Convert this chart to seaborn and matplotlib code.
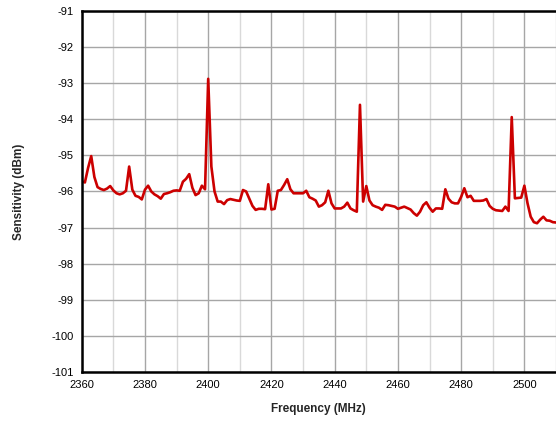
import matplotlib
matplotlib.use("Agg")
import matplotlib.pyplot as plt
import seaborn as sns
import pandas as pd
import numpy as np
from matplotlib.ticker import MultipleLocator

freq_start = 2360
sensitivity = [
    -95.72, -95.75, -95.35, -95.02, -95.60, -95.88, -95.93, -95.96, -95.92, -95.85,
    -95.97, -96.05, -96.08, -96.05, -95.98, -95.31, -95.95, -96.12, -96.15, -96.22,
    -95.95, -95.84, -96.00, -96.08, -96.13, -96.20, -96.07, -96.05, -96.02, -95.98,
    -95.97, -95.98, -95.73, -95.65, -95.52, -95.90, -96.10, -96.05, -95.84, -95.94,
    -92.88, -95.31, -96.00, -96.28, -96.28, -96.35, -96.24, -96.21, -96.23, -96.25,
    -96.26, -95.96, -96.00, -96.20, -96.40, -96.51, -96.48, -96.48, -96.49, -95.80,
    -96.50, -96.48, -95.98, -95.96, -95.82, -95.66, -95.94, -96.05, -96.05, -96.05,
    -96.05, -95.98, -96.16, -96.20, -96.25, -96.42, -96.38, -96.30, -95.98, -96.33,
    -96.47, -96.47, -96.47, -96.42, -96.31, -96.47, -96.52, -96.56, -93.60, -96.28,
    -95.85, -96.25, -96.38, -96.42, -96.45, -96.51, -96.37, -96.38, -96.40, -96.42,
    -96.48, -96.45, -96.42, -96.46, -96.50, -96.60, -96.67, -96.56, -96.38, -96.30,
    -96.45, -96.56, -96.47, -96.47, -96.48, -95.94, -96.20, -96.30, -96.33, -96.33,
    -96.15, -95.91, -96.16, -96.12, -96.26, -96.26, -96.26, -96.25, -96.21, -96.40,
    -96.48, -96.52, -96.53, -96.54, -96.42, -96.54, -93.94, -96.19, -96.18, -96.17,
    -95.84, -96.33, -96.70, -96.85, -96.88, -96.78, -96.70, -96.80, -96.81, -96.85,
    -96.86,
]
frequency = [freq_start + i for i in range(len(sensitivity))]

x_ticks = [2360, 2380, 2400, 2420, 2440, 2460, 2480, 2500]
y_ticks = list(range(-101, -90))

df = pd.DataFrame({"Frequency (MHz)": frequency, "Sensitivity (dBm)": sensitivity})

sns.set_style("white")
plt.rcParams["font.family"] = ["Liberation Sans", "DejaVu Sans"]

fig = plt.figure(figsize=(5.56, 4.21), dpi=100)
ax = fig.add_axes([0.147, 0.1164, 0.853, 0.8576])

sns.lineplot(data=df, x="Frequency (MHz)", y="Sensitivity (dBm)", ax=ax,
             color="#CC0000", linewidth=1.9)

ax.set_xlim(2360, 2510)
ax.set_ylim(-101, -91)
ax.set_xticks(x_ticks)
ax.xaxis.set_minor_locator(MultipleLocator(10))
ax.set_yticks(y_ticks)
ax.set_yticklabels([str(v) for v in y_ticks])
ax.grid(which="minor", axis="x", color="#d9d9d9", linewidth=1.0)
ax.grid(which="major", axis="x", color="#a6a6a6", linewidth=1.0)
ax.grid(which="major", axis="y", color="#a6a6a6", linewidth=1.0)
ax.set_axisbelow(True)

ax.tick_params(axis="both", which="both", length=0, labelsize=8, colors="black", pad=6)
for side in ["left", "bottom", "top"]:
    ax.spines[side].set_visible(True)
    ax.spines[side].set_color("black")
    ax.spines[side].set_linewidth(1.8)
ax.spines["right"].set_visible(False)

ax.set_xlabel("Frequency (MHz)", fontsize=8.5, fontweight="bold", labelpad=9)
ax.set_ylabel("Sensitivity (dBm)", fontsize=8.5, fontweight="bold", labelpad=19)

fig.savefig("out.png", dpi=100)
